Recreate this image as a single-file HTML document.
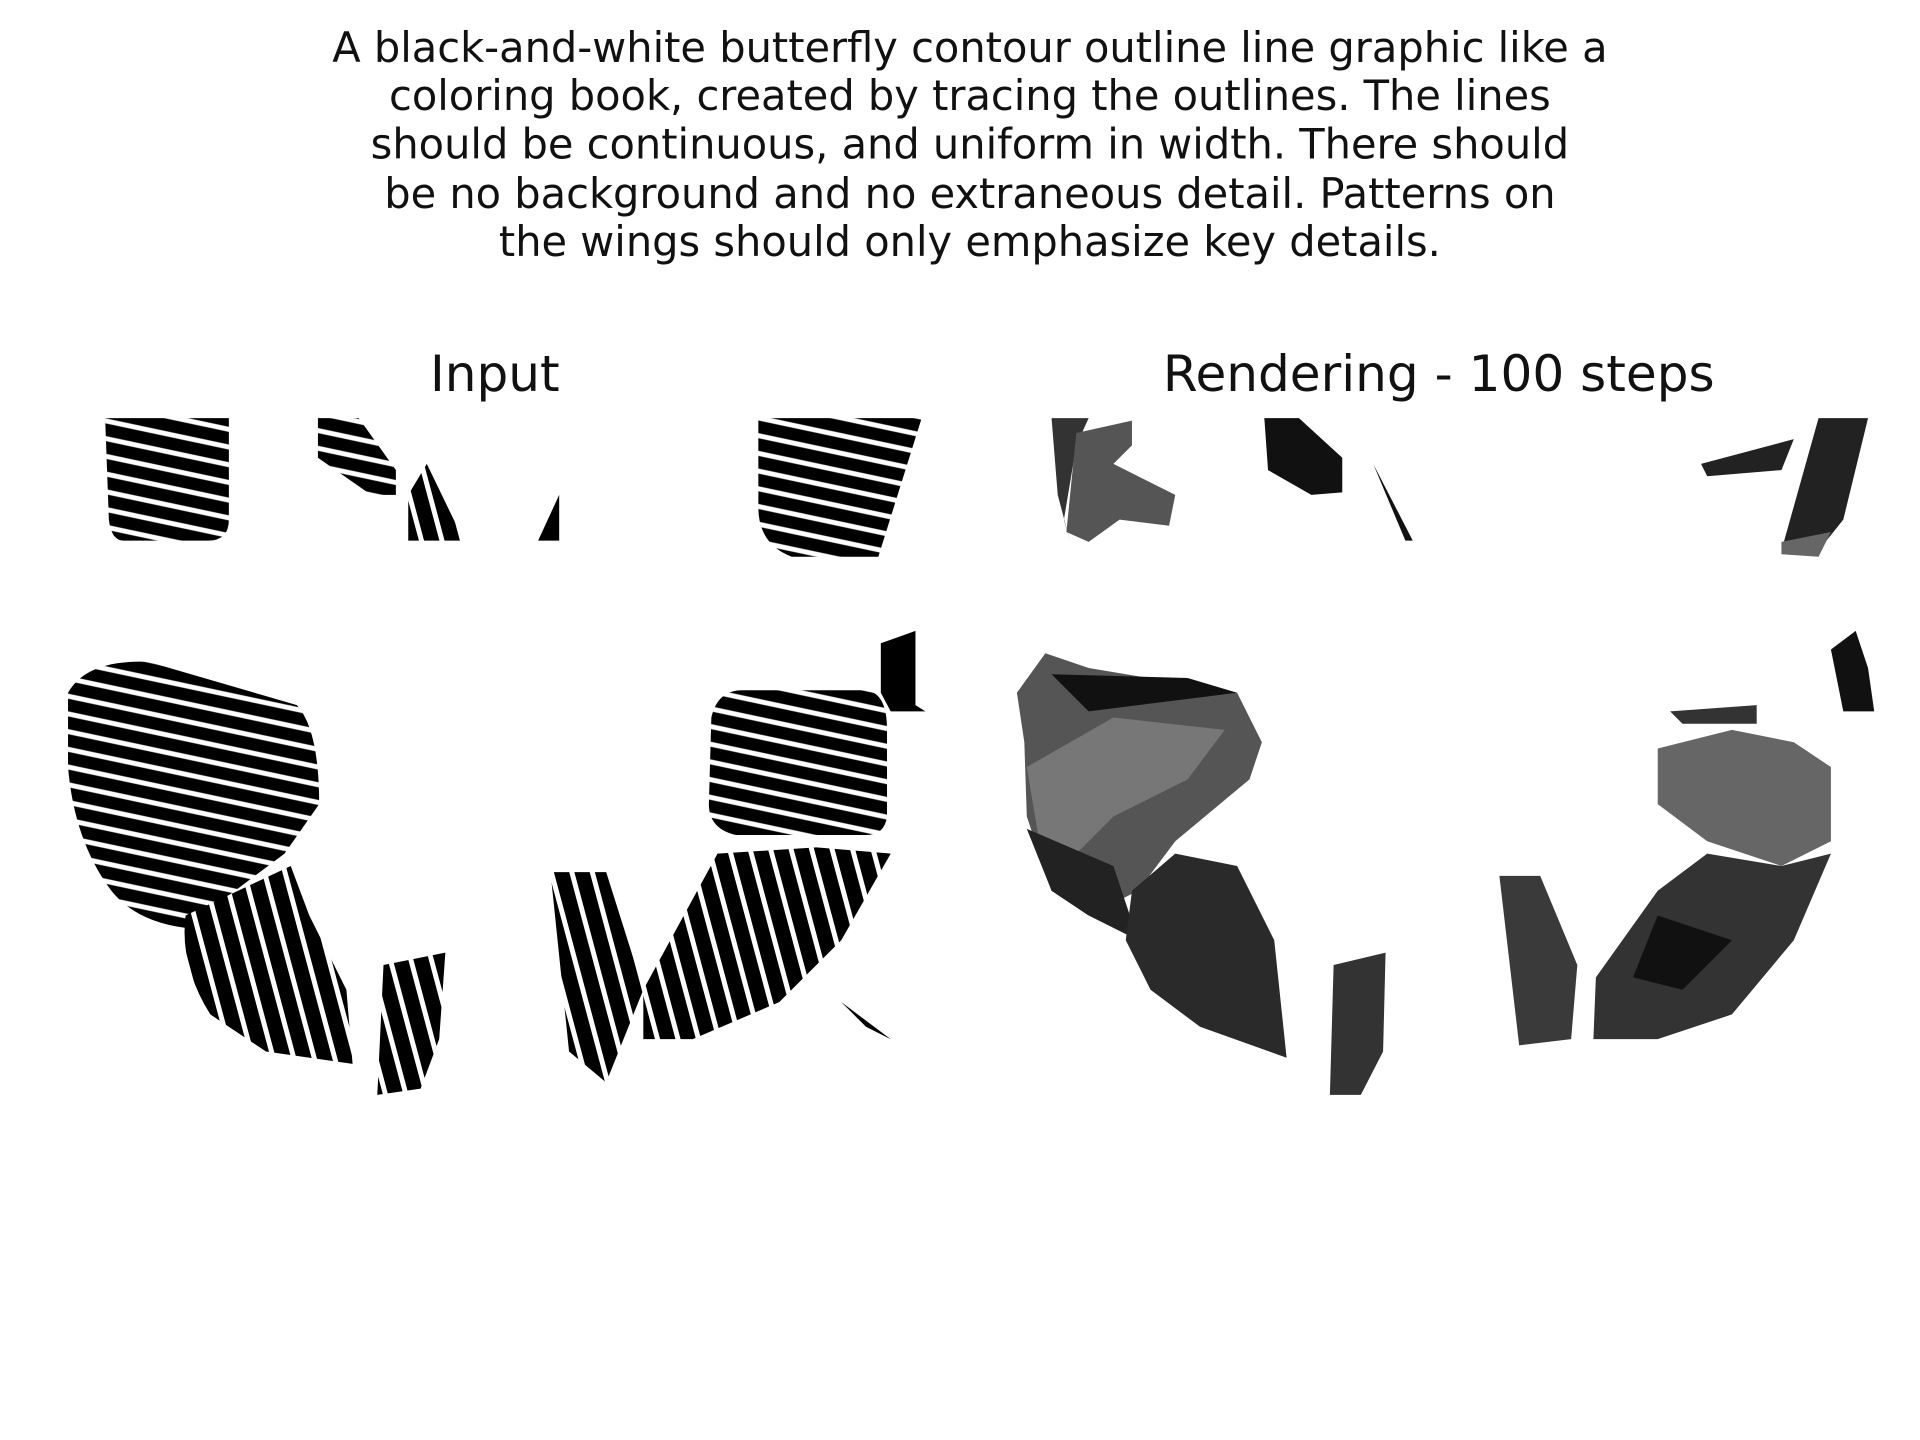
<!DOCTYPE html>
<html><head><meta charset="utf-8"><style>
html,body{margin:0;padding:0;background:#fff;width:1920px;height:1440px;overflow:hidden}
svg{display:block}
text{font-family:"DejaVu Sans","Liberation Sans",sans-serif;fill:#111}
</style></head><body>
<svg width="1920" height="1440" viewBox="0 0 1552 1164" preserveAspectRatio="none">
<defs>
<pattern id="str" width="14" height="14" patternUnits="userSpaceOnUse" patternTransform="rotate(12)">
<rect width="14" height="14" fill="#000"/><rect y="5" width="14" height="4" fill="#fff"/>
</pattern>
<pattern id="str2" width="16" height="16" patternUnits="userSpaceOnUse" patternTransform="rotate(75)">
<rect width="16" height="16" fill="#000"/><rect y="6" width="16" height="4" fill="#fff"/>
</pattern>
</defs>
<g font-size="33.6" text-anchor="middle">
<text x="784" y="50">A black-and-white butterfly contour outline line graphic like a</text>
<text x="784" y="89">coloring book, created by tracing the outlines. The lines</text>
<text x="784" y="128">should be continuous, and uniform in width. There should</text>
<text x="784" y="168">be no background and no extraneous detail. Patterns on</text>
<text x="784" y="207">the wings should only emphasize key details.</text>
</g>
<text x="400" y="316" font-size="40.5" text-anchor="middle">Input</text>
<text x="1163" y="316" font-size="40.5" text-anchor="middle">Rendering - 100 steps</text>

<g>
<path d="M85 338 H185 V420 Q185 437 168 437 H100 Q90 437 88 420 Z" fill="url(#str)"/>
<path d="M257 338 H290 L320 380 V400 H300 L257 370 Z" fill="url(#str)"/>
<path d="M330 400 L345 375 L375 437 H330 Z" fill="url(#str2)"/>
<path d="M435 437 L452 400 V437 Z" fill="#000"/>
<path d="M613 338 H745 L710 450 H640 Q613 440 613 410 Z" fill="url(#str)"/>
<path d="M55 560 Q70 533 120 535 L240 570 Q258 590 258 650 L230 690 L190 720 L150 750 Q110 745 90 720 Q60 680 55 620 Z" fill="url(#str)"/>
<path d="M150 740 L235 700 L250 740 L280 800 L285 860 L215 850 L170 820 Q145 780 150 740 Z" fill="url(#str2)"/>
<path d="M310 780 L360 770 L355 840 L340 880 L305 885 Z" fill="url(#str2)"/>
<path d="M445 705 H490 L520 800 L490 875 L460 850 Z" fill="url(#str2)"/>
<path d="M520 800 L580 690 L660 685 L720 690 L680 760 L630 810 L560 840 L520 840 Z" fill="url(#str2)"/>
<path d="M575 580 Q580 558 600 558 H700 Q717 560 717 590 V660 Q715 675 700 675 H595 Q573 670 573 650 Z" fill="url(#str)"/>
<path d="M712 520 L740 510 L740 570 L748 575 H720 L712 560 Z" fill="#000"/>
<path d="M680 810 L720 840 L700 830 Z" fill="#000"/>
</g>

<g>
<path d="M850 338 H880 L870 360 L860 420 L865 438 L855 400 Z" fill="#333"/>
<path d="M870 350 L915 340 L915 360 L900 375 L950 400 L945 425 L905 420 L880 438 L862 430 Z" fill="#555"/>
<path d="M1022 338 H1050 L1085 370 V398 L1060 400 L1025 380 Z" fill="#111"/>
<path d="M1110 375 L1142 437 L1136 437 Z" fill="#111"/>
<path d="M1375 375 L1450 355 L1440 380 L1380 385 Z" fill="#222"/>
<path d="M1470 338 H1510 L1490 420 L1470 445 L1440 445 Z" fill="#222"/>
<path d="M1440 438 L1480 430 L1470 450 L1440 448 Z" fill="#666"/>
<path d="M822 560 L845 528 L880 540 L1000 560 L1020 600 L1010 630 L950 680 L920 720 L880 740 L850 720 L830 660 L828 600 Z" fill="#555"/>
<path d="M830 620 L900 580 L990 590 L960 630 L900 660 L860 700 L840 680 Z" fill="#777"/>
<path d="M850 545 L960 548 L1000 560 L880 575 Z" fill="#111"/>
<path d="M830 670 L900 700 L920 760 L880 740 L850 720 Z" fill="#222"/>
<path d="M915 720 L950 690 L1000 700 L1030 760 L1040 855 L970 830 L930 800 L910 760 Z" fill="#2a2a2a"/>
<path d="M1078 780 L1120 770 L1118 850 L1100 885 L1075 885 Z" fill="#333"/>
<path d="M1212 708 H1245 L1275 780 L1270 840 L1228 845 Z" fill="#3a3a3a"/>
<path d="M1290 790 L1340 720 L1380 690 L1440 700 L1480 690 L1450 760 L1400 820 L1340 840 L1288 840 Z" fill="#333"/>
<path d="M1340 740 L1400 760 L1360 800 L1320 790 Z" fill="#111"/>
<path d="M1340 605 L1400 590 L1450 600 L1480 620 L1480 680 L1440 700 L1380 680 L1340 650 Z" fill="#666"/>
<path d="M1350 575 L1420 570 L1420 585 L1360 585 Z" fill="#333"/>
<path d="M1480 525 L1500 510 L1510 540 L1515 575 L1490 575 Z" fill="#111"/>
</g>
</svg>
</body></html>
